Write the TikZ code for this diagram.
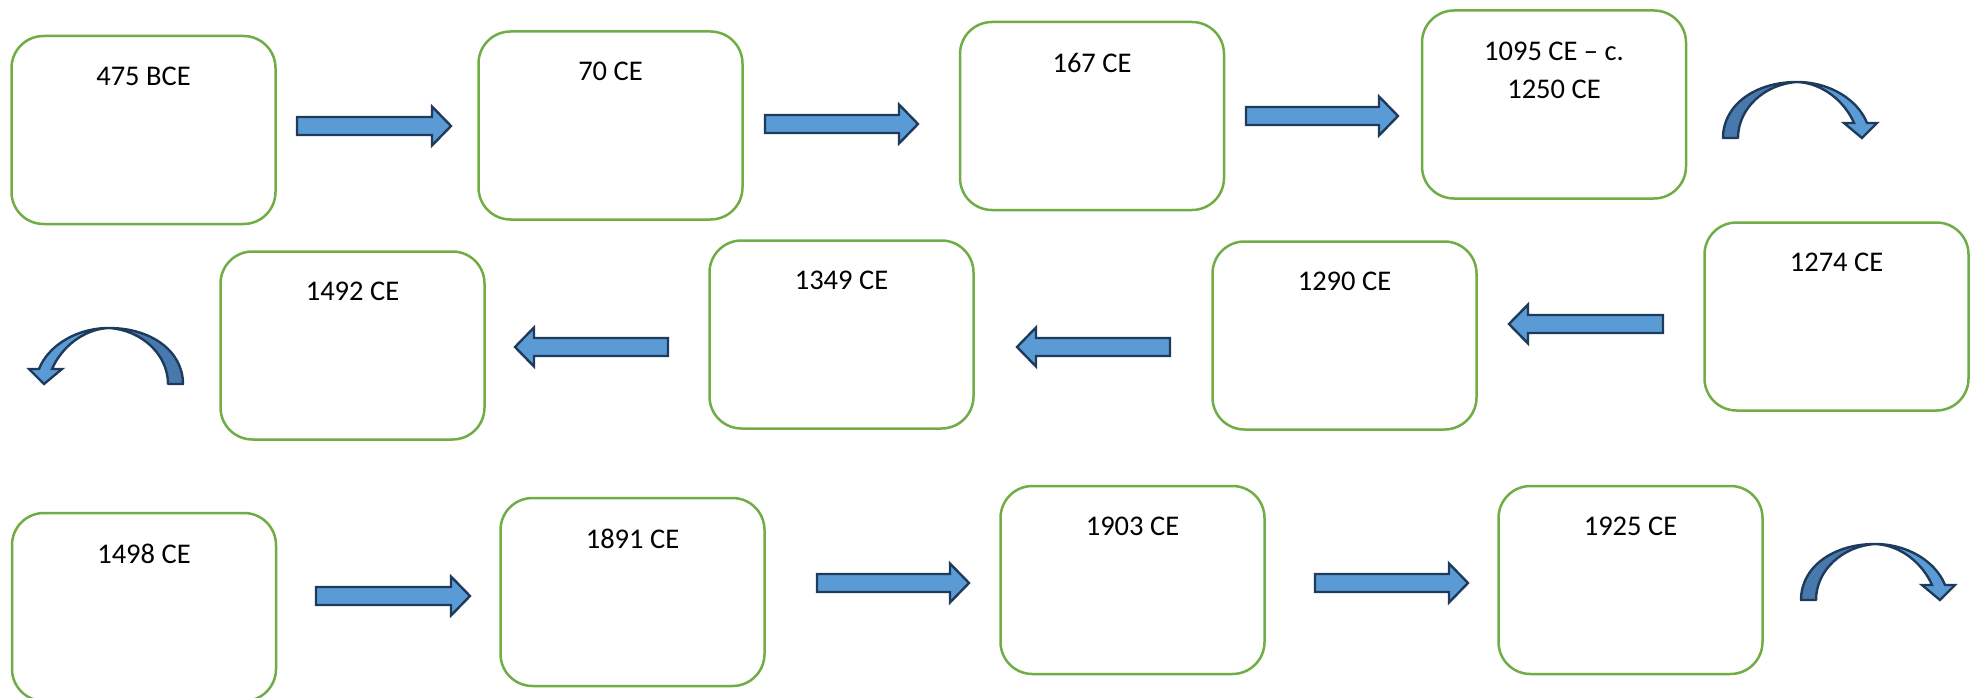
\documentclass[tikz,border=0pt]{standalone}
\usepackage{fontspec}
\setmainfont{Carlito}
\usetikzlibrary{calc}
\definecolor{boxgreen}{HTML}{70AD47}
\definecolor{arrfill}{HTML}{5B9BD5}
\definecolor{arrdark}{HTML}{4779AD}
\definecolor{arrline}{HTML}{1F3B5C}
\tikzset{
  box/.style={draw=boxgreen, line width=2.5pt, rounded corners=32pt, minimum width=264pt, minimum height=188pt, inner sep=0pt, fill=white},
  lbl/.style={font=\fontsize{28.5}{38}\selectfont, anchor=north, inner sep=0pt, align=center},
  blockarr/.style={draw=arrline, fill=arrfill, line width=2.4pt, line join=miter},
  curvearr/.pic={
    \draw[draw=arrline, fill=arrfill, line width=2.4pt, line join=miter]
      (74,-56) .. controls (107,-56) and (135,-38) .. (144,-15)
      -- (154,-15) -- (139,0) -- (121,-15) -- (131,-15)
      .. controls (122,-36) and (100,-55) .. (74,-56) -- cycle;
    \draw[draw=arrline, fill=arrdark, line width=2.4pt, line join=round]
      (0,0) .. controls (0,-33) and (32,-56) .. (74,-56)
      .. controls (42,-54) and (15,-30) .. (15,0) -- cycle;
  }
}
\newcommand\barrow[2]{%
  \draw[blockarr] let \p1=(#1), \p2=(#2), \n1={(\x2>\x1)?1:-1} in
    (\x1,\y1+9pt) -- (\x2-\n1*19pt,\y1+9pt) -- (\x2-\n1*19pt,\y1+19.5pt)
    -- (\x2,\y1) -- (\x2-\n1*19pt,\y1-19.5pt) -- (\x2-\n1*19pt,\y1-9pt)
    -- (\x1,\y1-9pt) -- cycle;}
\begin{document}
\begin{tikzpicture}[x=1pt,y=-1pt]
\useasboundingbox (0,0) rectangle (1979,698);
% boxes
\node[box] (b1) at (143.5,130) {};
\node[box] (b2) at (610.5,125.5) {};
\node[box] (b3) at (1092,116) {};
\node[box] (b4) at (1554,104.5) {};
\node[box] (b5) at (1836.5,316.5) {};
\node[box] (b6) at (1344.5,335.5) {};
\node[box] (b7) at (841.5,334.5) {};
\node[box] (b8) at (352.5,345.5) {};
\node[box] (b9) at (144,607) {};
\node[box] (b10) at (632.5,592) {};
\node[box] (b11) at (1132.5,580) {};
\node[box] (b12) at (1630.5,580) {};
% labels
\node[lbl] (t1) at ([yshift=-32pt]b1.north) {475 BCE};
\node[lbl] (t2) at ([yshift=-32pt]b2.north) {70 CE};
\node[lbl] (t3) at ([yshift=-32pt]b3.north) {167 CE};
\node[lbl] (t4) at ([yshift=-33pt]b4.north) {1095 CE – c.\\1250 CE};
\node[lbl] (t5) at ([yshift=-32pt]b5.north) {1274 CE};
\node[lbl] (t6) at ([yshift=-32pt]b6.north) {1290 CE};
\node[lbl] (t7) at ([yshift=-32pt]b7.north) {1349 CE};
\node[lbl] (t8) at ([yshift=-32pt]b8.north) {1492 CE};
\node[lbl] (t9) at ([yshift=-32pt]b9.north) {1498 CE};
\node[lbl] (t10) at ([yshift=-32pt]b10.north) {1891 CE};
\node[lbl] (t11) at ([yshift=-32pt]b11.north) {1903 CE};
\node[lbl] (t12) at ([yshift=-32pt]b12.north) {1925 CE};
% straight block arrows
\coordinate (a1s) at (297,126);  \coordinate (a1e) at (451,126);
\coordinate (a2s) at (765,124);  \coordinate (a2e) at (918,124);
\coordinate (a3s) at (1246,116); \coordinate (a3e) at (1398,116);
\coordinate (a4s) at (1663,324); \coordinate (a4e) at (1509,324);
\coordinate (a5s) at (1170,347); \coordinate (a5e) at (1017,347);
\coordinate (a6s) at (668,347);  \coordinate (a6e) at (515,347);
\coordinate (a7s) at (316,596);  \coordinate (a7e) at (470,596);
\coordinate (a8s) at (817,583);  \coordinate (a8e) at (969,583);
\coordinate (a9s) at (1315,583); \coordinate (a9e) at (1468,583);
\barrow{a1s}{a1e}
\barrow{a2s}{a2e}
\barrow{a3s}{a3e}
\barrow{a4s}{a4e}
\barrow{a5s}{a5e}
\barrow{a6s}{a6e}
\barrow{a7s}{a7e}
\barrow{a8s}{a8e}
\barrow{a9s}{a9e}
% curved arrows
\pic at (1723,138) {curvearr};
\pic[xscale=-1] at (183,384) {curvearr};
\pic at (1801,600) {curvearr};
\end{tikzpicture}
\end{document}
